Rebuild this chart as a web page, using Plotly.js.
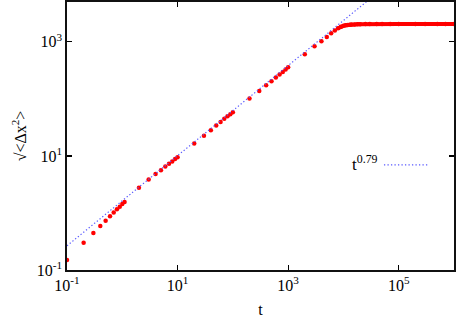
<!DOCTYPE html>
<html>
<head>
<meta charset="utf-8">
<script src="https://cdn.plot.ly/plotly-3.0.1.min.js"></script>
<style>html,body{margin:0;padding:0;background:#fff;}#chart{width:457px;height:318px;}</style>
</head>
<body>
<div id="chart"></div>
<script>
// sparse measured points
var tSparse = [0.1,0.2,0.3,0.4,0.5,0.6,0.7,0.8,0.9,1.0,1.1,
  2,3,4,5,6,7,8,9,10,
  20,30,40,50,60,70,80,90,100,
  200,300,400,500,600,700,800,900,1000,
  2000,3000,4000,5000,6000,7000];
var ySparse = [0.15,0.30,0.445,0.59,0.73,0.88,1.02,1.16,1.28,1.43,1.55,
  2.76,3.87,4.8,5.6,6.5,7.3,8.0,8.8,9.5,
  16.6,22.5,28.3,34.2,39.5,44.7,49.8,54,58.5,
  101.6,138,174,204,237,267,297,327,359,
  607,838,1023,1218,1413,1590];
// dense saturated part
var tDense = [8000,9000,10000,11000,12000,13000,14000,16000,18000,20000,25000,30000,40000,50000,70000,100000,200000,300000,500000,700000,1000000];
var yDense = [1730,1850,1910,1950,1980,2000,2010,2025,2035,2040,2050,2055,2055,2055,2050,2050,2050,2050,2050,2050,2050];
// fit t^0.79
var fitCoef = 1.64, fitExp = 0.79;
var fitT = [0.1, 1000000];
var fitY = fitT.map(function(t){return fitCoef*Math.pow(t,fitExp);});

var xTickVals = [0.1, 10, 1000, 100000];
var xTickText = ['10<sup>-1</sup>','10<sup>1</sup>','10<sup>3</sup>','10<sup>5</sup>'];
var yTickVals = [0.1, 10, 1000];
var yTickText = ['10<sup>-1</sup>','10<sup>1</sup>','10<sup>3</sup>'];

var red = '#ff0000';
var data = [
  {x: tSparse, y: ySparse, mode:'markers', type:'scatter',
   marker:{color:red, size:4.5}, showlegend:false},
  {x: tDense, y: yDense, mode:'lines+markers', type:'scatter',
   line:{color:red, width:4}, marker:{color:red, size:4.5}, showlegend:false},
  {x: fitT, y: fitY, mode:'lines', type:'scatter',
   line:{color:'#5a5aff', width:1.2, dash:'1.3px,2.2px'}, showlegend:false}
];
var fam = '"Liberation Serif", "Times New Roman", serif';
var font = {family:fam, size:16, color:'#000'};
var layout = {
  width:457, height:318,
  margin:{l:67, r:3, t:2, b:48},
  paper_bgcolor:'#fff', plot_bgcolor:'#fff',
  font: font,
  showlegend:false,
  xaxis:{type:'log', range:[-1, 6], tickvals:xTickVals, ticktext:xTickText,
    tickfont:font,
    ticks:'inside', ticklen:5, tickwidth:1.2, tickcolor:'#000',
    showline:true, linecolor:'#111', linewidth:1.8, mirror:'ticks',
    showgrid:false, zeroline:false,
    title:{text:'t', font:font, standoff:12}},
  yaxis:{type:'log', range:[-1, 3.699], tickvals:yTickVals, ticktext:yTickText,
    tickfont:font,
    ticks:'inside', ticklen:5, tickwidth:1.2, tickcolor:'#000',
    showline:true, linecolor:'#111', linewidth:1.8, mirror:'ticks',
    showgrid:false, zeroline:false,
    title:{text:'√&lt;Δx<sup>2</sup>&gt;', font:font, standoff:6}},
  annotations:[{xref:'paper', yref:'paper', x:0.81, y:0.40, xanchor:'right', yanchor:'middle',
    text:'t<sup>0.79</sup>', showarrow:false, font:{family:fam, size:17, color:'#000'}}],
  shapes:[{type:'line', xref:'paper', yref:'paper', x0:0.819, x1:0.935, y0:0.392, y1:0.392,
    line:{color:'#5a5aff', width:1.2, dash:'1.3px,2.2px'}}]
};
Plotly.newPlot('chart', data, layout, {displayModeBar:false, staticPlot:true});
</script>
</body>
</html>
